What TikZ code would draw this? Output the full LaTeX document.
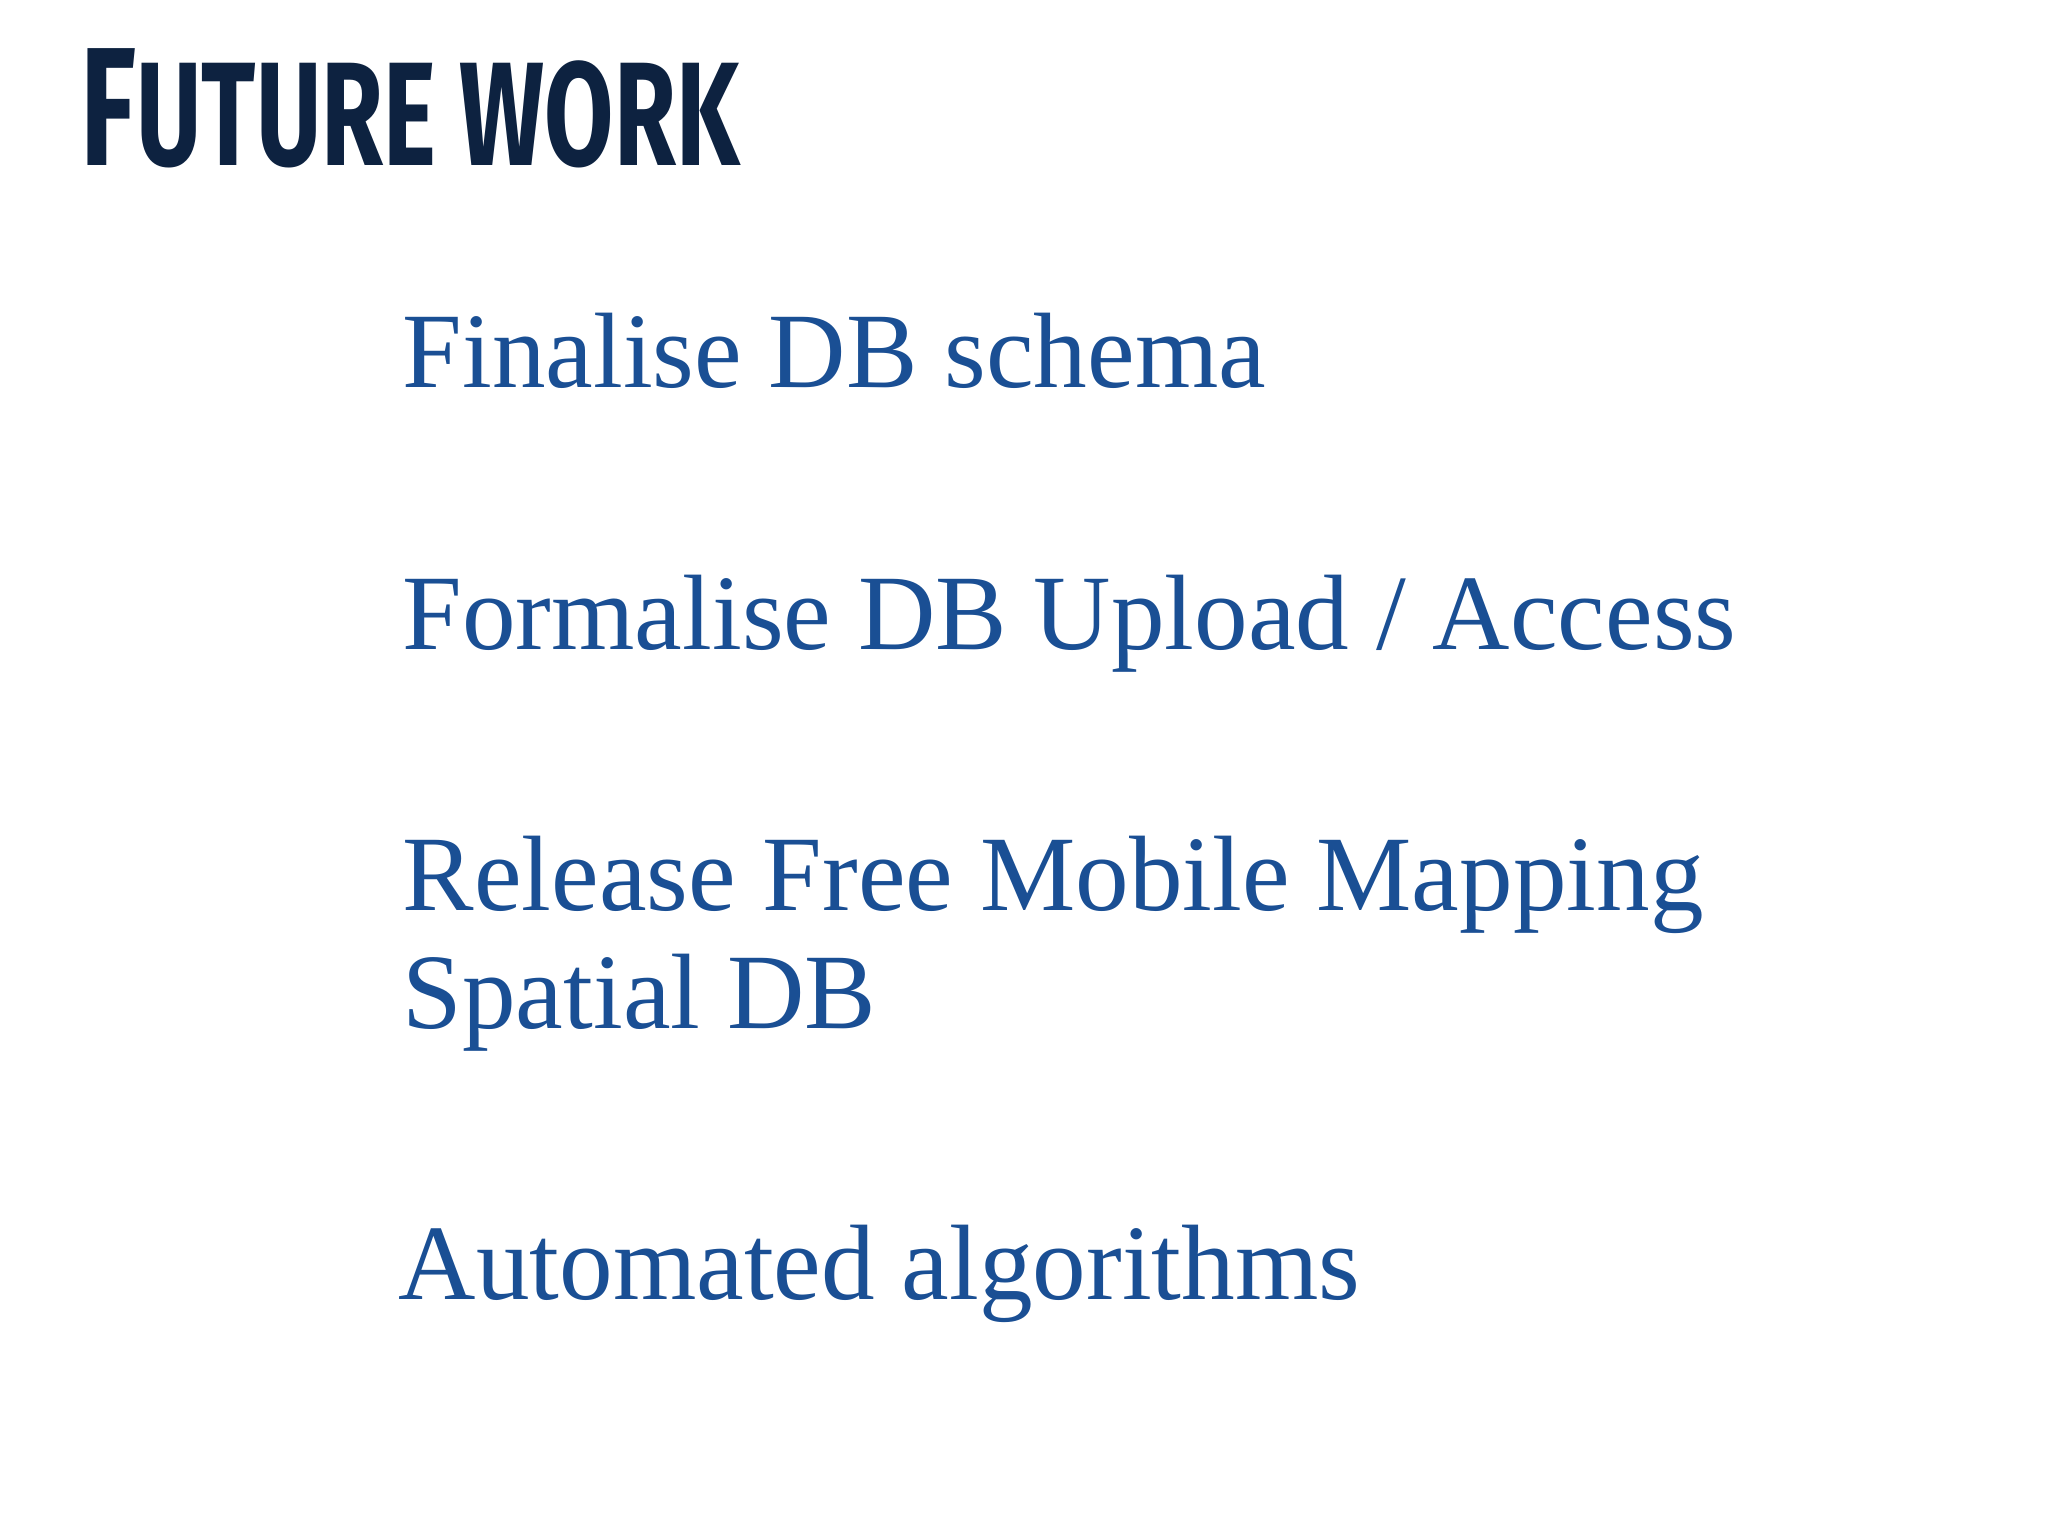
\documentclass[tikz,border=0pt]{standalone}
\usepackage{fontspec}
\setmainfont{Liberation Serif}
\newfontfamily\titlefont{Fira Sans}
\definecolor{navy}{HTML}{0D2240}
\definecolor{itemblue}{HTML}{1A4F94}
\tikzset{item/.style={anchor=base west,inner sep=0pt,text=itemblue,font=\fontsize{30.5}{37}\selectfont}}
\begin{document}
\begin{tikzpicture}
\useasboundingbox[fill=white] (0,0) rectangle (20.48,-15.36);
\node[anchor=base west,inner sep=0pt,text=navy] (title) at (0.80,-1.66)
  {\titlefont\bfseries\scalebox{0.68}[1]{\fontsize{48}{56}\selectfont F\fontsize{42}{50}\selectfont UTURE WORK}};
\node[item] (i1) at (4.02,-3.88) {Finalise DB schema};
\node[item] (i2) at (4.02,-6.49) {Formalise DB Upload / Access};
\node[item] (i3) at (4.02,-9.10) {Release Free Mobile Mapping};
\node[item] (i4) at (4.02,-10.28) {Spatial DB};
\node[item] (i5) at (3.98,-12.99) {Automated algorithms};
\end{tikzpicture}
\end{document}
